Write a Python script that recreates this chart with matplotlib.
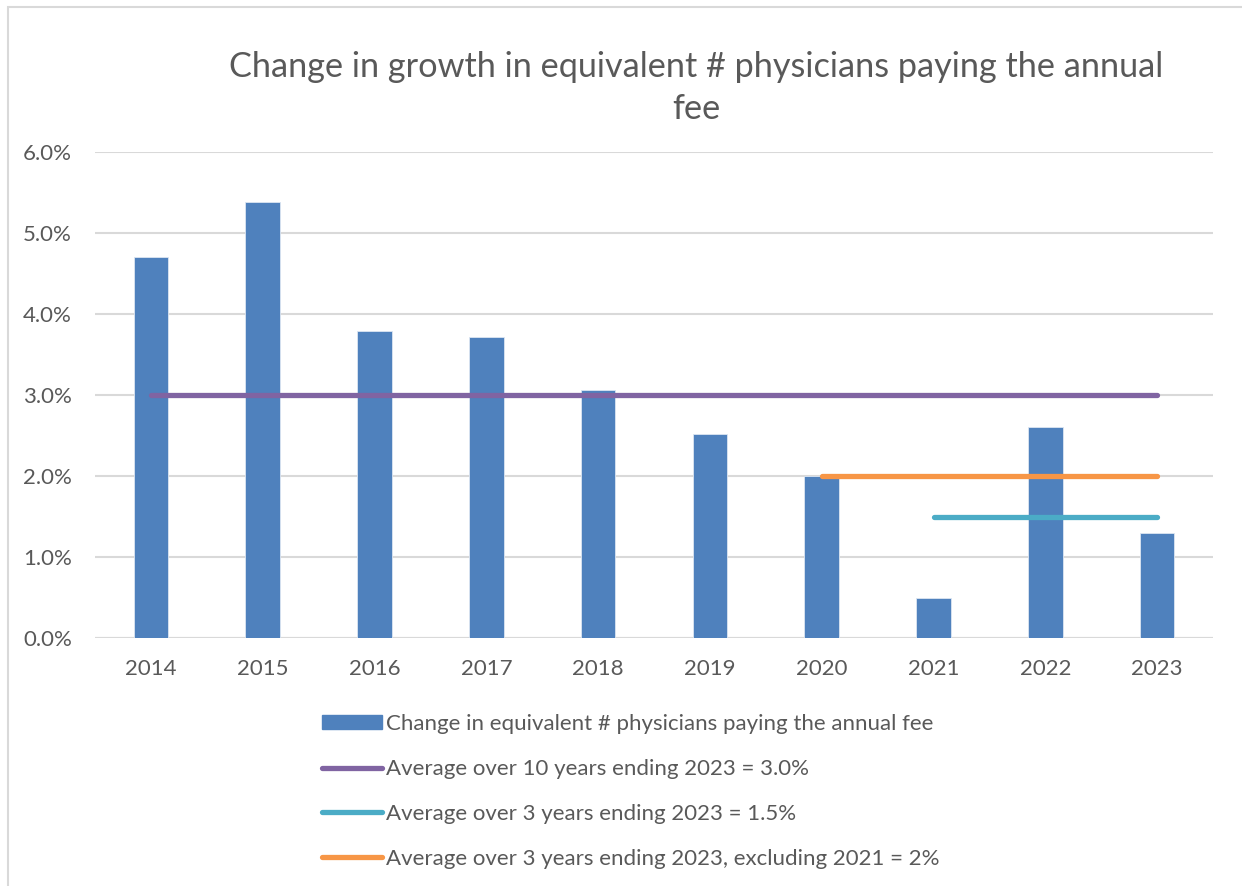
import matplotlib.pyplot as plt
from matplotlib.lines import Line2D
from matplotlib.patches import Patch, Rectangle
from matplotlib.ticker import FuncFormatter

# Growth in equivalent number of physicians paying the annual fee, in percent
years = ['2014', '2015', '2016', '2017', '2018', '2019', '2020', '2021', '2022', '2023']
growth = [4.70, 5.38, 3.79, 3.72, 3.06, 2.52, 2.00, 0.50, 2.60, 1.30]

# Averages and the year each one starts from (all end at 2023)
avg_10yr = 3.0
avg_10yr_start = '2014'
avg_3yr = 1.5
avg_3yr_start = '2021'
avg_3yr_ex2021 = 2.0
avg_3yr_ex2021_start = '2020'

BAR = '#4f81bd'
PURPLE = '#8064a2'
CYAN = '#4bacc6'
ORANGE = '#f79646'
TEXT = '#595959'
GRID = '#d9d9d9'

plt.rcParams['font.family'] = ['Lato', 'DejaVu Sans']

fig = plt.figure(figsize=(12.42, 8.86), dpi=100)
ax = fig.add_axes([0.0765, 0.2799, 0.9002, 0.5485])

x = list(range(len(years)))
ax.bar(x, growth, width=0.31, color=BAR, edgecolor='#dce6f2', linewidth=0.6, zorder=2)

end = len(years) - 1
lw = 3.8
ax.plot([years.index(avg_10yr_start), end], [avg_10yr] * 2, color=PURPLE, lw=lw,
        solid_capstyle='round', zorder=3)
ax.plot([years.index(avg_3yr_ex2021_start), end], [avg_3yr_ex2021] * 2, color=ORANGE, lw=lw,
        solid_capstyle='round', zorder=3)
ax.plot([years.index(avg_3yr_start), end], [avg_3yr] * 2, color=CYAN, lw=lw,
        solid_capstyle='round', zorder=3)

ax.set_xlim(-0.5, len(years) - 0.5)
ax.set_ylim(0, 6)
ax.set_xticks(x)
ax.set_xticklabels(years)
ax.set_yticks([0, 1, 2, 3, 4, 5, 6])
ax.yaxis.set_major_formatter(FuncFormatter(lambda v, _: f'{v:.1f}%'))
ax.tick_params(length=0, labelsize=16, colors=TEXT)
ax.tick_params(axis='y', pad=16.5)
ax.tick_params(axis='x', pad=15)
ax.grid(axis='y', color=GRID, lw=1.5, zorder=0)
for s in ax.spines.values():
    s.set_visible(False)
ax.axhline(0, color=GRID, lw=1.5, zorder=1)

fig.text(0.5604, 0.901, 'Change in growth in equivalent # physicians paying the annual\nfee',
         ha='center', va='center', fontsize=24.7, color=TEXT, linespacing=1.4)

handles = [
    Patch(facecolor=BAR, edgecolor=BAR),
    Line2D([], [], color=PURPLE, lw=lw, solid_capstyle='round'),
    Line2D([], [], color=CYAN, lw=lw, solid_capstyle='round'),
    Line2D([], [], color=ORANGE, lw=lw, solid_capstyle='round'),
]
labels = [
    'Change in equivalent # physicians paying the annual fee',
    'Average over 10 years ending 2023 = 3.0%',
    'Average over 3 years ending 2023 = 1.5%',
    'Average over 3 years ending 2023, excluding 2021 = 2%',
]
leg = fig.legend(handles, labels, loc='upper left', bbox_to_anchor=(0.2593, 0.194),
                 frameon=False, fontsize=16, labelcolor=TEXT, handlelength=2.7,
                 handleheight=0.6, handletextpad=0.2, labelspacing=1.12,
                 borderaxespad=0, borderpad=0)

# light chart-area frame
fig.add_artist(Rectangle((8 / 1242, -0.01), 1.1, 1 - 7 / 886 + 0.01, transform=fig.transFigure,
                         fill=False, edgecolor='#d9d9d9', lw=1.5))

fig.savefig('out.png', dpi=100, facecolor='white')
